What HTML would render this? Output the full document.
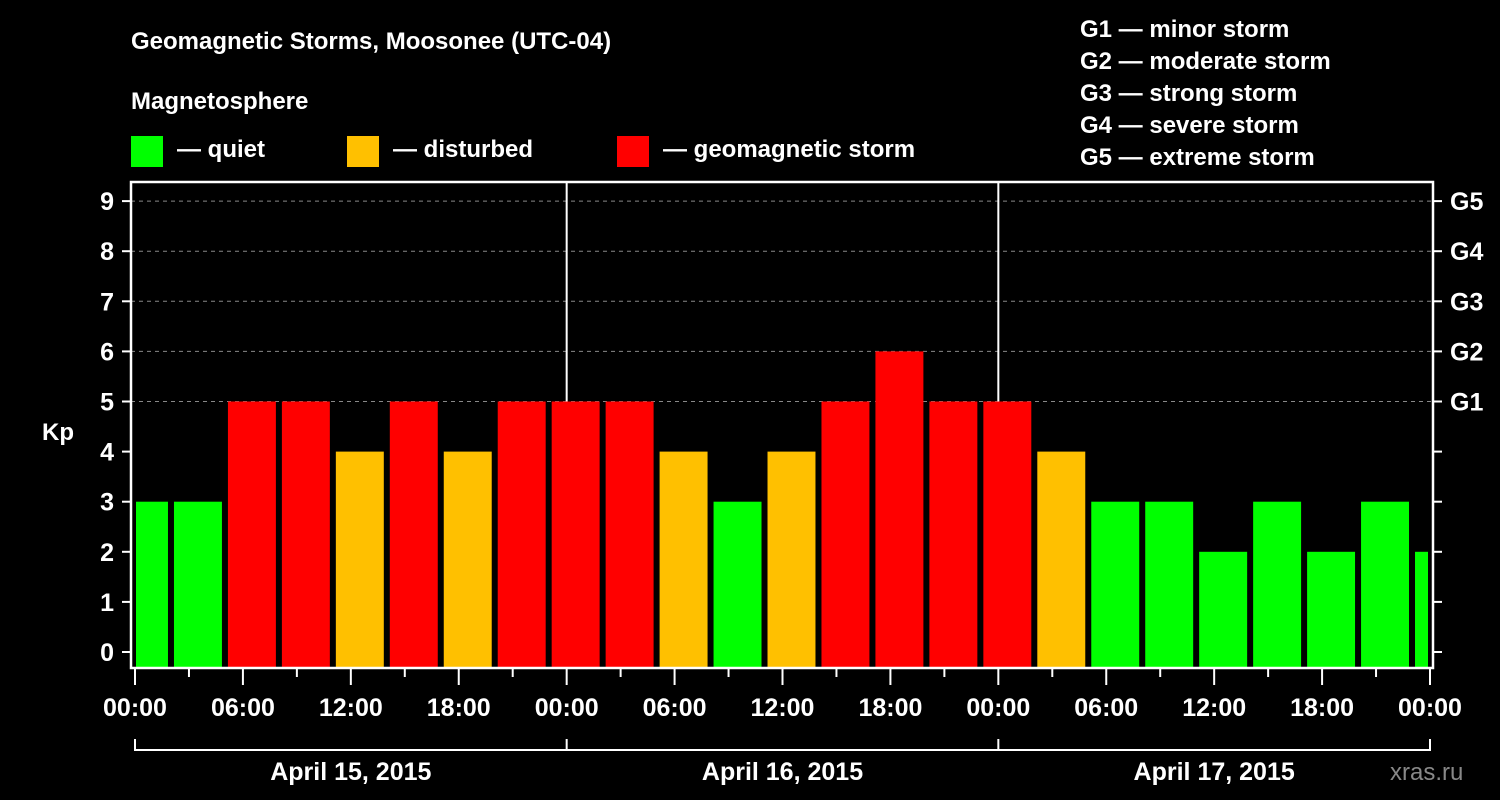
<!DOCTYPE html>
<html><head><meta charset="utf-8"><style>
body{margin:0;background:#000;}
svg{display:block;font-family:"Liberation Sans",Arial,sans-serif;font-weight:bold;}
</style></head><body>
<svg id="chart" width="1500" height="800" viewBox="0 0 1500 800">
<rect width="1500" height="800" fill="#000"/>
<text x="131" y="49" fill="#fff" font-size="24">Geomagnetic Storms, Moosonee (UTC-04)</text>
<text x="131" y="109" fill="#fff" font-size="24">Magnetosphere</text>
<g><rect x="131" y="136" width="32" height="31" fill="#00ff00"/><text x="177" y="157" fill="#fff" font-size="24">— quiet</text></g>
<g><rect x="347" y="136" width="32" height="31" fill="#ffc000"/><text x="393" y="157" fill="#fff" font-size="24">— disturbed</text></g>
<g><rect x="617" y="136" width="32" height="31" fill="#ff0000"/><text x="663" y="157" fill="#fff" font-size="24">— geomagnetic storm</text></g>
<g fill="#fff" font-size="24">
<text x="1080" y="37">G1 — minor storm</text>
<text x="1080" y="69">G2 — moderate storm</text>
<text x="1080" y="101">G3 — strong storm</text>
<text x="1080" y="133">G4 — severe storm</text>
<text x="1080" y="165">G5 — extreme storm</text>
</g>
<text x="42" y="440" fill="#fff" font-size="24">Kp</text>
<text x="1390" y="780" fill="#888" font-size="24" font-weight="normal">xras.ru</text>
<g id="grid"></g><g id="bars"></g><g id="axes"></g>
</svg>
<script>
const values=[3,3,5,5,4,5,4,5,5,5,4,3,4,5,6,5,5,4,3,3,2,3,2,3,2];
const yTicks=[0,1,2,3,4,5,6,7,8,9];
const gLabels=["G1","G2","G3","G4","G5"];
const gLevels=[5,6,7,8,9];
const xLabels=["00:00","06:00","12:00","18:00","00:00","06:00","12:00","18:00","00:00","06:00","12:00","18:00","00:00"];
const days=["April 15, 2015","April 16, 2015","April 17, 2015"];
const startHour=-1, totalHours=72;
const X0=135,X1=1430,Y0=652,PX=50.1;
const fL=131,fR=1433,fT=182,fB=668;
const x=h=>X0+(X1-X0)*h/totalHours;
const y=v=>Y0-v*PX;
const NS="http://www.w3.org/2000/svg";
function mk(p,t,a){const e=document.createElementNS(NS,t);for(const k in a)e.setAttribute(k,a[k]);p.appendChild(e);return e;}
const grid=document.getElementById('grid'),bars=document.getElementById('bars'),axes=document.getElementById('axes');
gLevels.forEach((v,i)=>{
 const l=mk(grid,'line',{x1:fL,x2:fR,y1:y(v),y2:y(v),stroke:'#888','stroke-dasharray':'4,4','stroke-width':1});
 
 
});
[24,48].forEach(h=>{
 const l=mk(grid,'line',{x1:x(h),x2:x(h),y1:fT,y2:fB,stroke:'#fff','stroke-width':2});
 
 
});
const col=v=>v>=5?'#ff0000':(v==4?'#ffc000':'#00ff00');
values.forEach((v,i)=>{
 const h0=startHour+i*3,h1=h0+3;
 let a=Math.max(x(h0)+3,fL+5),b=Math.min(x(h1)-3,fR-5);
 const r=mk(bars,'rect',{x:a,y:y(v),width:b-a,height:fB-1-y(v),fill:col(v)});
 
 
});
const fr=mk(axes,'rect',{x:fL,y:fT,width:fR-fL,height:fB-fT,fill:'none',stroke:'#fff','stroke-width':2.5});


yTicks.forEach(v=>{
 mk(axes,'line',{x1:122,x2:fL,y1:y(v),y2:y(v),stroke:'#fff','stroke-width':2});
 mk(axes,'line',{x1:fR,x2:1442,y1:y(v),y2:y(v),stroke:'#fff','stroke-width':2});
 const t=mk(axes,'text',{x:114,y:y(v)+9,fill:'#fff','font-size':25,'text-anchor':'end'});
 t.textContent=v;
 
 
});
gLevels.forEach((v,i)=>{
 const t=mk(axes,'text',{x:1450,y:y(v)+9,fill:'#fff','font-size':25});
 t.textContent=gLabels[i];
 
 
});
for(let h=0;h<=totalHours;h+=3){
 const major=h%6==0;
 mk(axes,'line',{x1:x(h),x2:x(h),y1:fB,y2:fB+(major?17:9),stroke:'#fff','stroke-width':2});
}
xLabels.forEach((s,i)=>{
 const t=mk(axes,'text',{x:x(i*6),y:716,fill:'#fff','font-size':25,'text-anchor':'middle'});
 t.textContent=s;
 
 
});
mk(axes,'line',{x1:X0,x2:X1,y1:750,y2:750,stroke:'#fff','stroke-width':2});
[0,24,48,72].forEach(h=>mk(axes,'line',{x1:x(h),x2:x(h),y1:739,y2:751,stroke:'#fff','stroke-width':2}));
days.forEach((d,i)=>{
 const t=mk(axes,'text',{x:x(i*24+12),y:780,fill:'#fff','font-size':25,'text-anchor':'middle'});
 t.textContent=d;
 
 
});
</script>
</body></html>
